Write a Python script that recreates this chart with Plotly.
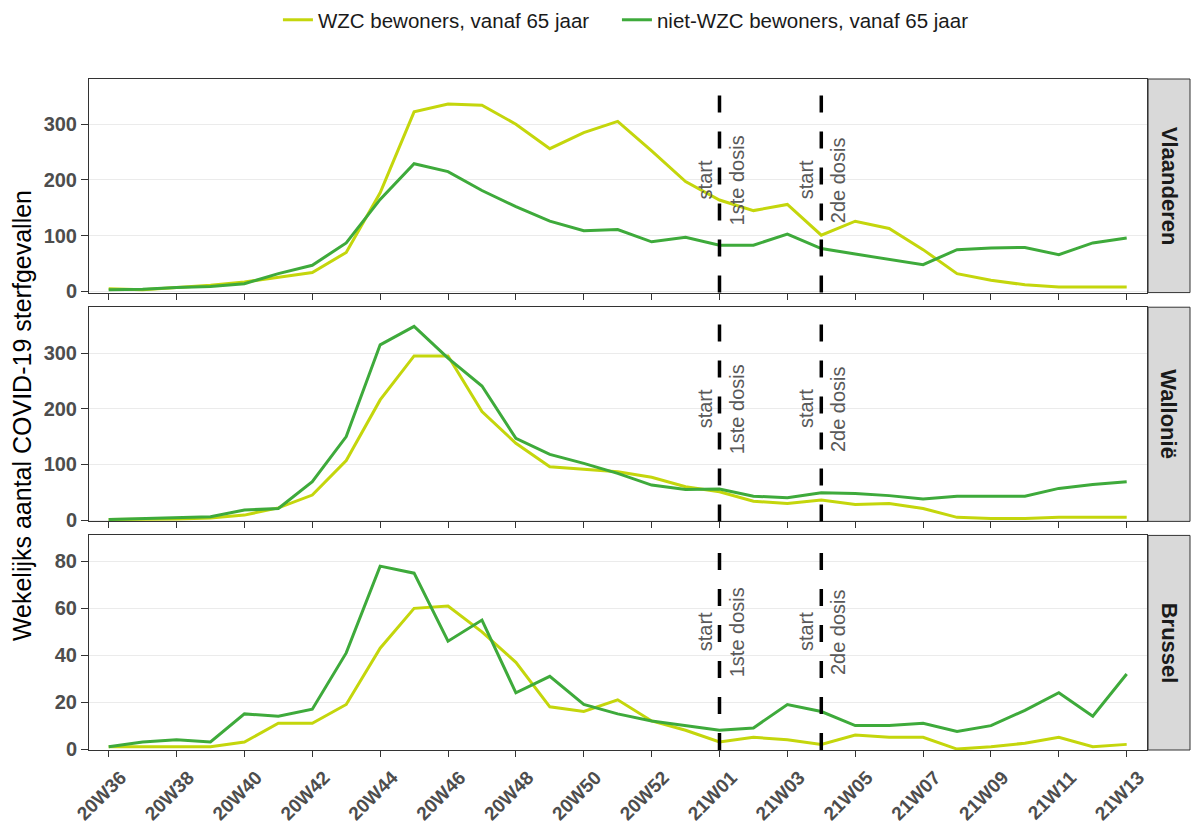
import plotly.graph_objects as go
from plotly.subplots import make_subplots

weeks = ["20W36", "20W37", "20W38", "20W39", "20W40", "20W41", "20W42", "20W43",
         "20W44", "20W45", "20W46", "20W47", "20W48", "20W49", "20W50", "20W51",
         "20W52", "20W53", "21W01", "21W02", "21W03", "21W04", "21W05", "21W06",
         "21W07", "21W08", "21W09", "21W10", "21W11", "21W12", "21W13"]
tick_weeks = ["20W36", "20W38", "20W40", "20W42", "20W44", "20W46", "20W48", "20W50",
              "20W52", "21W01", "21W03", "21W05", "21W07", "21W09", "21W11", "21W13"]

regions = ["Vlaanderen", "Wallonië", "Brussel"]
series_names = ["WZC bewoners, vanaf 65 jaar", "niet-WZC bewoners, vanaf 65 jaar"]

vl_wzc = [5, 3, 7, 11, 17, 26, 34, 70, 177, 322, 336, 334, 300, 256, 285, 305,
          252, 197, 164, 145, 156, 101, 126, 113, 75, 32, 20, 12, 8, 8, 8]
vl_niet = [3, 4, 7, 9, 14, 32, 47, 87, 165, 229, 215, 181, 152, 126, 109, 111,
           89, 97, 83, 83, 103, 77, 67, 57, 48, 75, 78, 79, 66, 87, 96]
wa_wzc = [1, 1, 2, 4, 9, 22, 45, 107, 216, 295, 295, 195, 138, 96, 92, 87,
          77, 60, 51, 34, 30, 36, 28, 30, 21, 5, 3, 3, 5, 5, 5]
wa_niet = [1, 3, 4, 6, 18, 21, 69, 150, 315, 348, 291, 241, 147, 118, 102, 84,
           63, 55, 56, 43, 40, 49, 48, 44, 38, 43, 43, 43, 57, 64, 69]
br_wzc = [1, 1, 1, 1, 3, 11, 11, 19, 43, 60, 61, 50, 37, 18, 16, 21,
          12, 8, 3, 5, 4, 2, 6, 5, 5, 0, 1, 2.5, 5, 1, 2]
br_niet = [1, 3, 4, 3, 15, 14, 17, 41, 78, 75, 46, 55, 24, 31, 19, 15,
           12, 10, 8, 9, 19, 16, 10, 10, 11, 7.5, 10, 16.5, 24, 14, 32]

data_wzc = [vl_wzc, wa_wzc, br_wzc]
data_niet = [vl_niet, wa_niet, br_niet]

vaccin_weeks = ["21W01", "21W04"]
vaccin_labels = [("start", "1ste dosis"), ("start", "2de dosis")]
label_y = [200, 200, 50]
y_ranges = [[-2, 381], [-2.3, 382.6], [-0.4, 91.1]]
y_ticks = [[0, 100, 200, 300], [0, 100, 200, 300], [0, 20, 40, 60, 80]]

col_wzc = "#C4D60C"
col_niet = "#3EAA3B"
font_fam = "Liberation Sans, Arial, sans-serif"

fig = make_subplots(rows=3, cols=1, shared_xaxes=True, vertical_spacing=0.02)

for r in range(3):
    fig.add_trace(go.Scatter(x=weeks, y=data_wzc[r], mode="lines", name=series_names[0],
                             line=dict(color=col_wzc, width=3), showlegend=(r == 0),
                             legendgroup="wzc", legend="legend"), row=r + 1, col=1)
    fig.add_trace(go.Scatter(x=weeks, y=data_niet[r], mode="lines", name=series_names[1],
                             line=dict(color=col_niet, width=3), showlegend=(r == 0),
                             legendgroup="niet", legend="legend2"), row=r + 1, col=1)

# panel geometry (paper fractions)
y_domains = [[0.6817, 1.0], [0.3407, 0.6599], [0.0, 0.3198]]
x_dom_end = 0.9610
strip_x0 = 0.9619

axis_common = dict(showline=True, mirror=True, linecolor="#333333", linewidth=1,
                   ticks="outside", tickcolor="#333333", zeroline=False)

for r in range(3):
    xa = "xaxis" if r == 0 else f"xaxis{r + 1}"
    ya = "yaxis" if r == 0 else f"yaxis{r + 1}"
    fig.layout[xa].update(domain=[0, x_dom_end], type="category",
                          range=[-0.58, 30.6], showgrid=False,
                          tickmode="array", tickvals=tick_weeks, ticktext=tick_weeks,
                          ticklen=6, showticklabels=(r == 2), tickangle=-45,
                          ticklabelshift=12, ticklabelstandoff=2,
                          tickfont=dict(size=19, color="#4D4D4D", family=font_fam, weight="bold"),
                          **axis_common)
    fig.layout[ya].update(domain=y_domains[r], range=y_ranges[r], tickmode="array",
                          tickvals=y_ticks[r], showgrid=True, gridcolor="#EBEBEB", gridwidth=1,
                          ticklen=7,
                          tickfont=dict(size=20, color="#4D4D4D", family=font_fam, weight="bold"),
                          **axis_common)

shapes = []
annotations = []
for r in range(3):
    yref_dom = "y domain" if r == 0 else f"y{r + 1} domain"
    xref = "x" if r == 0 else f"x{r + 1}"
    yref = "y" if r == 0 else f"y{r + 1}"
    for wk, (l1, l2) in zip(vaccin_weeks, vaccin_labels):
        xi = weeks.index(wk)
        shapes.append(dict(type="line", xref=xref, yref=yref_dom, x0=xi, x1=xi, y0=0, y1=1,
                           line=dict(color="black", width=3.5, dash="17px,19px"), layer="above"))
        annotations.append(dict(x=xi, y=label_y[r], xref=xref, yref=yref, text=l1,
                                showarrow=False, textangle=-90, xshift=-15,
                                xanchor="center", yanchor="middle",
                                font=dict(size=20, color="#595959", family=font_fam)))
        annotations.append(dict(x=xi, y=label_y[r], xref=xref, yref=yref, text=l2,
                                showarrow=False, textangle=-90, xshift=17,
                                xanchor="center", yanchor="middle",
                                font=dict(size=20, color="#595959", family=font_fam)))
    # strip
    shapes.append(dict(type="rect", xref="paper", yref="paper", x0=strip_x0, x1=1.0,
                       y0=y_domains[r][0], y1=y_domains[r][1], fillcolor="#D9D9D9",
                       line=dict(color="#333333", width=1), layer="below"))
    annotations.append(dict(x=(strip_x0 + 1.0) / 2, y=sum(y_domains[r]) / 2, xref="paper",
                            yref="paper", text=f"<b>{regions[r]}</b>", showarrow=False,
                            textangle=90, xanchor="center", yanchor="middle",
                            font=dict(size=22, color="#1A1A1A", family=font_fam)))

annotations.append(dict(x=-0.0609, y=0.499, xref="paper", yref="paper",
                        text="Wekelijks aantal COVID-19 sterfgevallen", showarrow=False,
                        textangle=-90, xanchor="center", yanchor="middle",
                        font=dict(size=25, color="black", family=font_fam)))

legend_style = dict(orientation="h", y=1.088, yanchor="middle", xanchor="left",
                    font=dict(size=20.5, color="#1A1A1A", family=font_fam), itemwidth=30,
                    bgcolor="rgba(0,0,0,0)")

fig.update_layout(
    width=1192, height=821,
    margin=dict(l=89, r=2, t=79, b=71, autoexpand=False),
    paper_bgcolor="white", plot_bgcolor="white",
    font=dict(family=font_fam),
    shapes=shapes, annotations=annotations,
    legend=dict(x=0.1716, **legend_style),
    legend2=dict(x=0.4795, **legend_style),
)

fig.write_html("out.html", config={"displayModeBar": False},
               post_script="document.body.style.margin='0';document.body.style.overflow='hidden';")
